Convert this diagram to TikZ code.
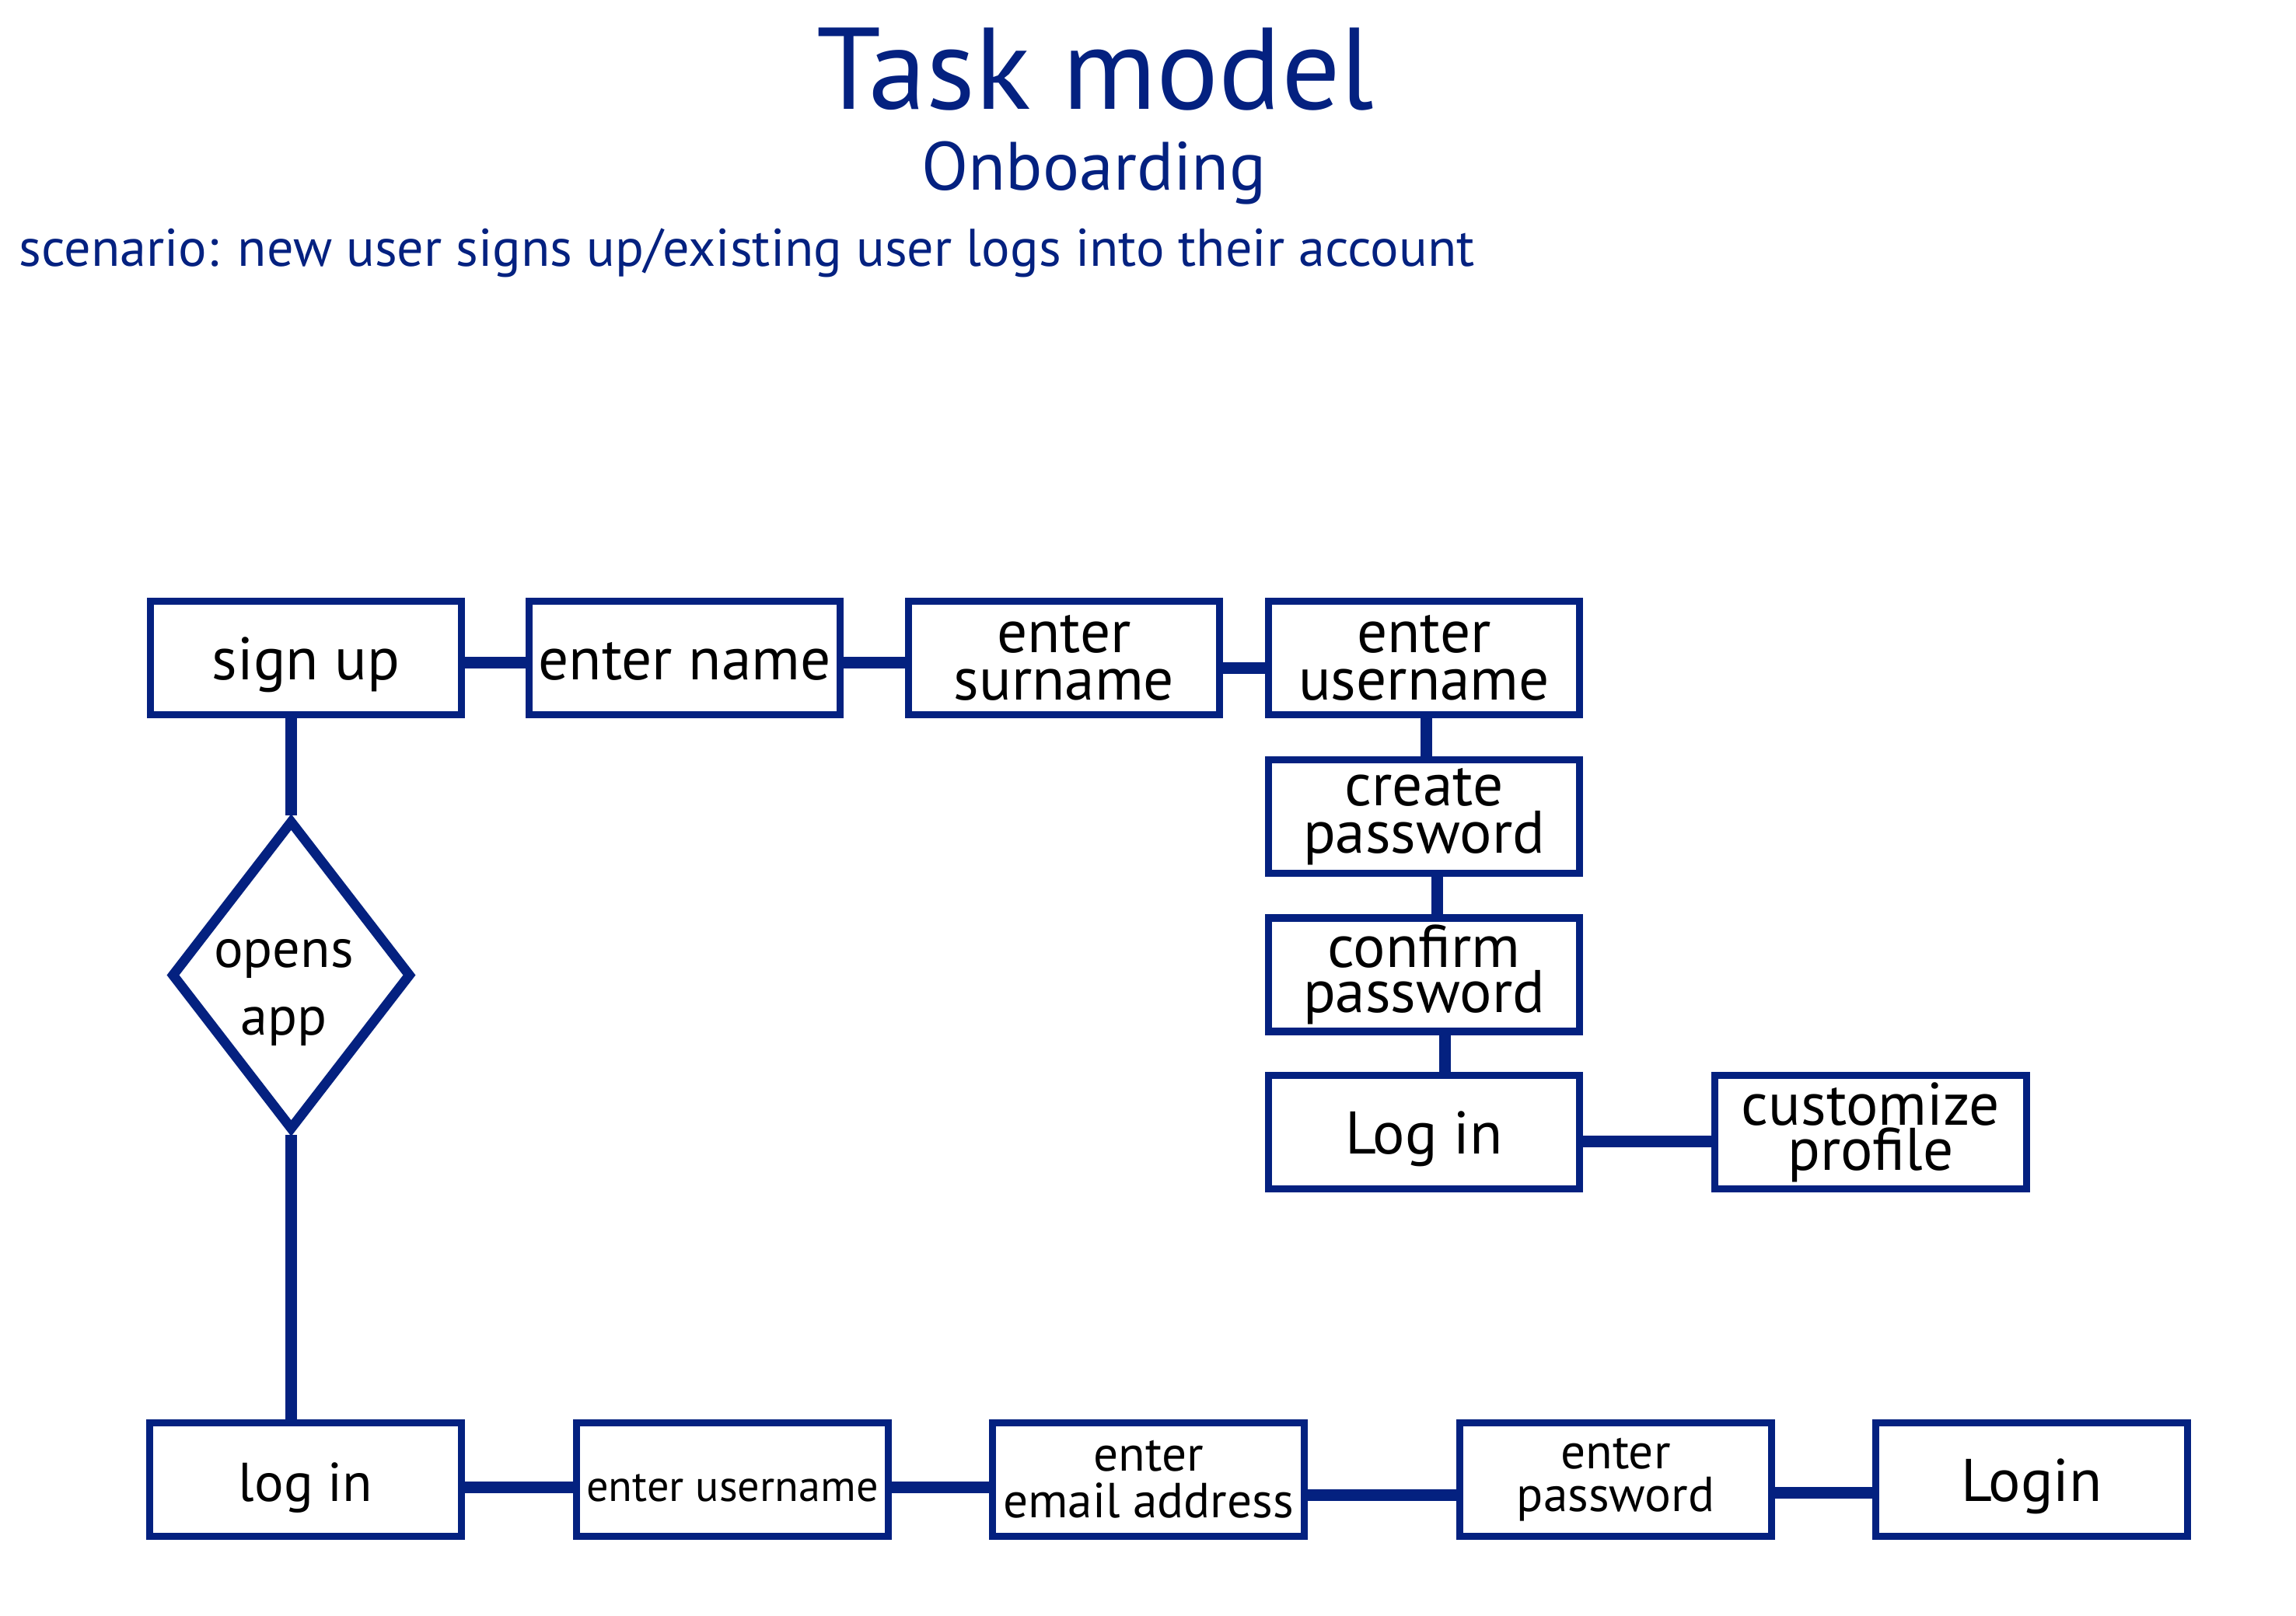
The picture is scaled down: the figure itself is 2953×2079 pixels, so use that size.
\documentclass[tikz,border=0pt]{standalone}
\usepackage{fontspec}
\setmainfont{PT Sans}
\usepackage{tikz}
\usetikzlibrary{shapes.geometric}
\definecolor{navy}{RGB}{4,33,128}
\tikzset{
  task/.style={draw=navy, line width=2.6pt, minimum width=4cm, minimum height=1.46cm,
    inner sep=0pt, align=center, font=\fontsize{22}{17.5}\selectfont},
  single/.style={text height=0.72cm, text depth=0.16cm},
  decision/.style={draw=navy, line width=3.6pt, diamond, inner sep=0pt,
    minimum width=3.09cm, minimum height=3.99cm},
  link/.style={navy, line width=4.3pt},
}

\begin{document}
\begin{tikzpicture}[x=0.01cm, y=-0.01cm]
  \useasboundingbox (0,0) rectangle (2953,2079);
  % headings
  \node[navy, anchor=base, font=\fontsize{42.5}{50}\selectfont] (title) at (1409,141) {Task model};
  \node[navy, anchor=base, font=\fontsize{25}{30}\selectfont] (sub) at (1407,245) {Onboarding};
  \node[navy, anchor=base west, inner sep=0pt, font=\fontsize{19.4}{24}\selectfont] (scen) at (24,343)
    {scenario: new user signs up/existing user logs into their account};
  % sign up branch
  \node[task, single] (signup) at (393.5,846.5) {sign up};
  \node[task, single] (name) at (880.5,846.5) {enter name};
  \node[task] (surname) at (1368.5,846.5) {enter\\surname};
  \node[task] (user) at (1831.5,846.5) {enter\\username};
  \node[task] (create) at (1831.5,1050.5) {create\\password};
  \node[task, font=\fontsize{22}{14.5}\selectfont] (confirm) at (1831.5,1254) {confirm\\password};
  \node[task, single] (login) at (1831.5,1456.5) {Log in};
  \node[task, font=\fontsize{22}{16.5}\selectfont] (custom) at (2406,1456.5) {customize\\profile};
  % decision
  \node[decision] (opens) at (374.5,1254.5) {};
  \node[align=center, font=\fontsize{20}{24.7}\selectfont] (openstxt) at (365,1277) {opens\\app};
  % log in branch
  \node[task, single, font=\fontsize{20}{16}\selectfont] (logb) at (393,1903.5) {log in};
  \node[task, single, font=\fontsize{16}{16}\selectfont] (userb) at (942,1903.5) {enter username};
  \node[task, font=\fontsize{18}{17}\selectfont] (mail) at (1477,1903.5) {enter\\email address};
  \node[task, font=\fontsize{18}{15.6}\selectfont] (pass) at (2078,1903.5) {enter\\password};
  \node[task, single] (loginb) at (2613,1903.5) {Login};
  % connectors
  \foreach \a/\b/\s in {signup/name/-0.06, name/surname/-0.06, surname/user/-0.13,
      login/custom/-0.12, logb/userb/-0.1, userb/mail/-0.1, mail/pass/-0.2, pass/loginb/-0.17}
    \draw[link] ([yshift=\s cm]\a.east) -- ([yshift=\s cm]\b.west);
  \foreach \a/\b/\s in {user/create/0.03, create/confirm/0.17, confirm/login/0.27}
    \draw[link] ([xshift=\s cm]\a.south) -- ([xshift=\s cm]\b.north);
  \draw[link] (signup.south -| opens.north) -- (opens.north);
  \draw[link] (opens.south) -- (opens.south |- logb.north);
\end{tikzpicture}
\end{document}
